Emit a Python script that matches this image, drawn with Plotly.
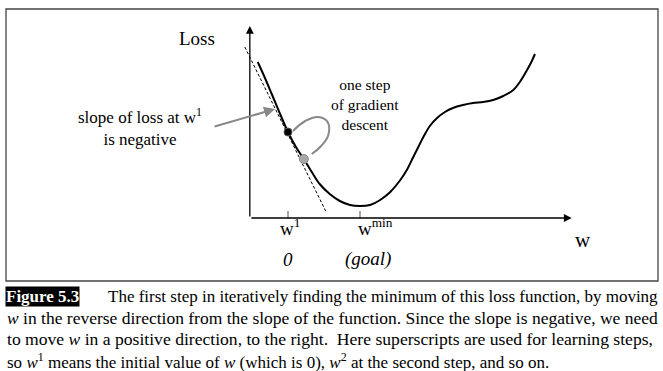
import plotly.graph_objects as go

# ---- data (w in units where w1=0, wmin=1; loss in arbitrary units) ----
curve_w = [-0.42, -0.32, -0.22, -0.11, 0.0, 0.11, 0.22, 0.33, 0.44, 0.58, 0.72, 0.86, 1.0,
           1.14, 1.28, 1.42, 1.56, 1.65, 1.74, 1.81, 1.88, 1.97, 2.07, 2.18, 2.29, 2.43,
           2.57, 2.71, 2.85, 2.99, 3.13, 3.22, 3.32, 3.38, 3.43]
curve_loss = [7.8, 7.0, 6.15, 5.2, 4.3, 3.55, 2.95, 2.3, 1.7, 1.2, 0.85, 0.65, 0.6,
              0.65, 0.9, 1.3, 1.9, 2.4, 3.05, 3.55, 4.05, 4.6, 5.0, 5.3, 5.5, 5.65,
              5.75, 5.8, 5.9, 6.1, 6.4, 6.8, 7.4, 7.8, 8.2]
tangent_w = [-0.6, 0.53]
tangent_loss = [8.55, 0.3]
start_point = (0.0, 4.3)      # w1
step_point = (0.22, 2.95)     # after one step
step_arc_w = [0.07, 0.24, 0.42, 0.55, 0.56, 0.46, 0.33]
step_arc_loss = [4.35, 4.85, 5.05, 4.8, 4.15, 3.6, 3.2]
tick_w = [0.0, 1.0]
tick_labels = ["w<sup>1</sup>", "w<sup>min</sup>"]
tick_sublabels = ["<i>0</i>", "<i>(goal)</i>"]
axis_origin = (-0.53, 0.0)
axis_x_end = 3.94
axis_y_end = 9.6

caption_tag = "Figure 5.3"
caption_lines = [
    "The first step in iteratively finding the minimum of this loss function, by moving",
    "<i>w</i> in the reverse direction from the slope of the function. Since the slope is negative, we need",
    "to move <i>w</i> in a positive direction, to the right.  Here superscripts are used for learning steps,",
    "so <i>w</i><sup>1</sup> means the initial value of <i>w</i> (which is 0), <i>w</i><sup>2</sup> at the second step, and so on.",
]

W, H = 663, 371
SERIF = "Liberation Serif, Times New Roman, serif"

fig = go.Figure()

# tangent (dashed)
fig.add_trace(go.Scatter(x=tangent_w, y=tangent_loss, mode="lines",
                         line=dict(color="black", width=1, dash="3px,2px"),
                         hoverinfo="skip", showlegend=False))
# loss curve
fig.add_trace(go.Scatter(x=curve_w, y=curve_loss, mode="lines",
                         line=dict(color="black", width=2, shape="spline", smoothing=1.0),
                         hoverinfo="skip", showlegend=False))
# curved step arrow body
fig.add_trace(go.Scatter(x=step_arc_w, y=step_arc_loss, mode="lines",
                         line=dict(color="#888888", width=2, shape="spline", smoothing=1.2),
                         hoverinfo="skip", showlegend=False))
# points
fig.add_trace(go.Scatter(x=[start_point[0]], y=[start_point[1]], mode="markers",
                         marker=dict(color="black", size=8, line=dict(color="#555", width=1)),
                         hoverinfo="skip", showlegend=False))
fig.add_trace(go.Scatter(x=[step_point[0]], y=[step_point[1]], mode="markers",
                         marker=dict(color="#a8a8a8", size=9, line=dict(color="#8a8a8a", width=1)),
                         hoverinfo="skip", showlegend=False))

ann = []
# axes with arrowheads
ann.append(dict(x=axis_x_end, y=axis_origin[1], ax=axis_origin[0], ay=axis_origin[1],
                xref="x", yref="y", axref="x", ayref="y", text="", showarrow=True,
                arrowhead=2, arrowsize=1.2, arrowwidth=1.3, arrowcolor="black"))
ann.append(dict(x=axis_origin[0], y=axis_y_end, ax=axis_origin[0], ay=axis_origin[1],
                xref="x", yref="y", axref="x", ayref="y", text="", showarrow=True,
                arrowhead=2, arrowsize=1.2, arrowwidth=1.3, arrowcolor="black"))
# arrowhead of curved step arrow
ann.append(dict(x=0.29, y=3.05, ax=step_arc_w[-1], ay=step_arc_loss[-1],
                xref="x", yref="y", axref="x", ayref="y", text="", showarrow=True,
                arrowhead=2, arrowsize=1.1, arrowwidth=2, arrowcolor="#888888"))
# slope label arrow
ann.append(dict(x=-0.18, y=5.45, ax=-1.04, ay=4.55,
                xref="x", yref="y", axref="x", ayref="y", text="", showarrow=True,
                arrowhead=2, arrowsize=1.1, arrowwidth=2, arrowcolor="#888888"))

# text labels
ann.append(dict(x=-1.26, y=9.0, xref="x", yref="y", text="Loss", showarrow=False,
                font=dict(family=SERIF, size=19, color="black")))
ann.append(dict(x=4.1, y=-1.1, xref="x", yref="y", text="w", showarrow=False,
                font=dict(family=SERIF, size=21, color="black")))
label_w = [0.03, 1.21]
for lw, lab in zip(label_w, tick_labels):
    ann.append(dict(x=lw, y=-0.45, xref="x", yref="y", text=lab, showarrow=False,
                    font=dict(family=SERIF, size=19, color="black")))
sub_w = [0.0, 1.11]
for sw, lab in zip(sub_w, tick_sublabels):
    ann.append(dict(x=sw, y=-2.05, xref="x", yref="y", text=lab, showarrow=False,
                    font=dict(family=SERIF, size=19, color="black")))
ann.append(dict(x=-2.06, y=4.55, xref="x", yref="y",
                text="slope of loss at w<sup>1</sup><br>is negative", showarrow=False,
                align="center", font=dict(family=SERIF, size=17, color="black")))
ann.append(dict(x=1.07, y=5.7, xref="x", yref="y",
                text="one step<br>of gradient<br>descent", showarrow=False,
                align="center", font=dict(family=SERIF, size=15.5, color="black")))

# caption (paper coords, from top-left in pixels)
def px(xp):
    return xp / W

def py(yp):
    return 1 - yp / H

ann.append(dict(x=px(5), y=py(296), xref="paper", yref="paper", xanchor="left", yanchor="middle",
                text="<b>" + caption_tag + "</b>", showarrow=False, bgcolor="black",
                borderpad=0, font=dict(family=SERIF, size=17, color="white")))
cap_x = [106, 5, 5, 5]
cap_y = [296, 317.5, 339, 360.5]
cap_size = [17, 17.5, 17.6, 17]
for cx, cy, cs, line in zip(cap_x, cap_y, cap_size, caption_lines):
    ann.append(dict(x=px(cx), y=py(cy), xref="paper", yref="paper", xanchor="left",
                    yanchor="middle", text=line, showarrow=False,
                    font=dict(family=SERIF, size=cs, color="black")))

shapes = []
# tick marks
for tw in tick_w:
    shapes.append(dict(type="line", xref="x", yref="y", x0=tw, x1=tw, y0=0, y1=0.35,
                       line=dict(color="#888888", width=1.5)))
# frame
shapes.append(dict(type="rect", xref="paper", yref="paper", x0=px(6), x1=px(658),
                   y0=py(281), y1=py(9), line=dict(color="#444444", width=1.3)))

fig.update_layout(
    width=W, height=H, margin=dict(l=0, r=0, t=0, b=0),
    paper_bgcolor="white", plot_bgcolor="white",
    xaxis=dict(range=[-4.0, (W - 288) / 72], visible=False, fixedrange=True),
    yaxis=dict(range=[(218 - H) / 20, 218 / 20], visible=False, fixedrange=True),
    annotations=ann, shapes=shapes, showlegend=False,
)

fig.write_html("out.html", config={"displayModeBar": False},
               post_script="document.body.style.margin='0';document.body.style.overflow='hidden';")
